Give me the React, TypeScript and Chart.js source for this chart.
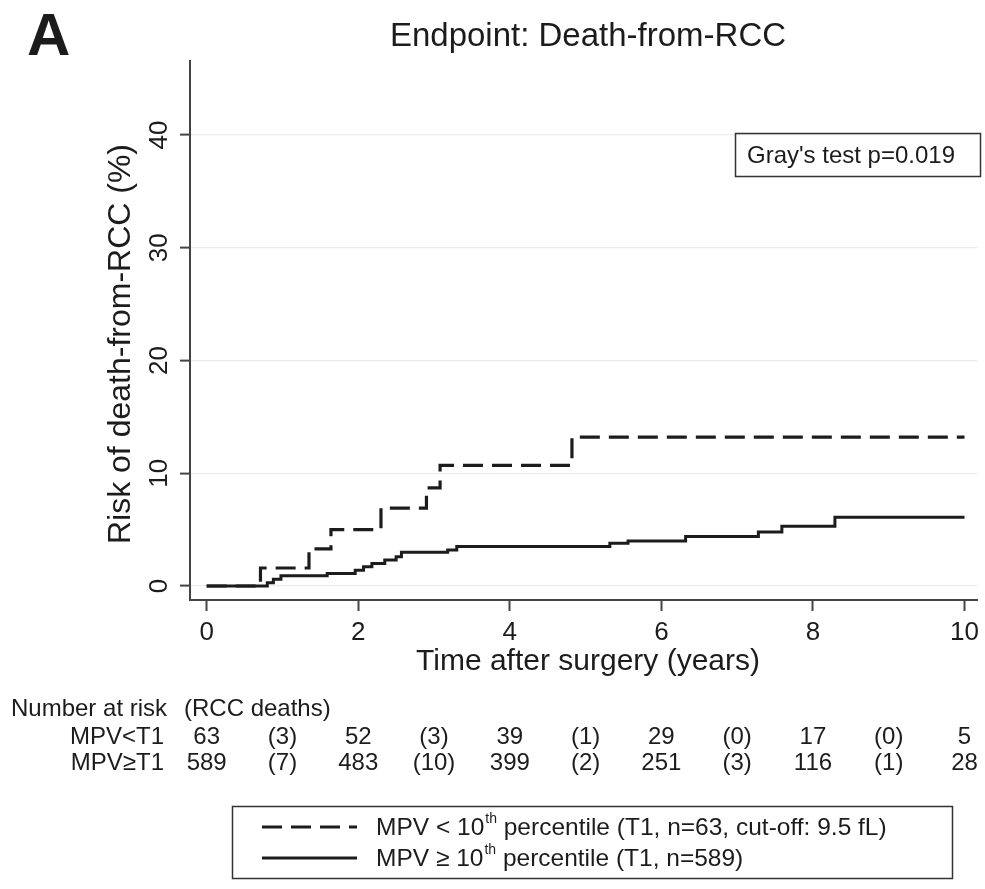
import React, { useEffect, useRef } from 'react';
import { Chart, registerables } from 'chart.js';

Chart.register(...registerables);

// ---- Data ----
const dashedTimes = [0, 0.71, 1.35, 1.64, 2.3, 2.9, 3.08, 4.82, 10.0];
const dashedRisk = [0, 1.6, 3.3, 5.0, 6.9, 8.7, 10.7, 13.2, 13.2];

const solidTimes = [0, 0.8, 0.88, 0.98, 1.59, 1.96, 2.07, 2.18, 2.35, 2.5, 2.57, 3.18, 3.3, 5.32, 5.56, 6.32, 7.28, 7.59, 8.29, 10.0];
const solidRisk = [0, 0.3, 0.6, 0.9, 1.1, 1.4, 1.7, 2.0, 2.3, 2.6, 3.0, 3.2, 3.5, 3.8, 4.0, 4.4, 4.8, 5.3, 6.1, 6.1];

const xTicks = [0, 2, 4, 6, 8, 10];
const yTicks = [0, 10, 20, 30, 40];

const riskTimes = [0, 1, 2, 3, 4, 5, 6, 7, 8, 9, 10];
const riskLow = ['63', '(3)', '52', '(3)', '39', '(1)', '29', '(0)', '17', '(0)', '5'];
const riskHigh = ['589', '(7)', '483', '(10)', '399', '(2)', '251', '(3)', '116', '(1)', '28'];

const FONT = '"Liberation Sans", Arial, Helvetica, sans-serif';
const INK = '#1c1c1c';

const overlayPlugin = {
  id: 'overlay',
  afterDraw(chart: any) {
    const ctx = chart.ctx as CanvasRenderingContext2D;
    const xs = chart.scales.x;
    ctx.save();
    ctx.fillStyle = INK;
    ctx.strokeStyle = '#333';

    // Panel letter
    ctx.font = `bold 60px ${FONT}`;
    ctx.textAlign = 'left';
    ctx.textBaseline = 'alphabetic';
    ctx.fillText('A', 27, 55);

    // Title
    ctx.font = `33px ${FONT}`;
    ctx.textAlign = 'center';
    ctx.fillText('Endpoint: Death-from-RCC', 588, 46);

    // X axis title
    ctx.font = `30px ${FONT}`;
    ctx.textBaseline = 'middle';
    ctx.fillText('Time after surgery (years)', 588, 662);

    // Y axis title
    ctx.save();
    ctx.translate(121, 344);
    ctx.rotate(-Math.PI / 2);
    ctx.font = `32px ${FONT}`;
    ctx.fillText('Risk of death-from-RCC (%)', 0, 0);
    ctx.restore();

    // Gray's test box
    ctx.lineWidth = 1.5;
    ctx.strokeRect(735.5, 133.5, 245, 43);
    ctx.font = `24px ${FONT}`;
    ctx.textAlign = 'left';
    ctx.fillText("Gray's test p=0.019", 747, 156);

    // Number at risk table
    ctx.font = `24px ${FONT}`;
    ctx.textAlign = 'left';
    ctx.fillText('Number at risk', 11, 709);
    ctx.fillText('(RCC deaths)', 184, 709);
    ctx.textAlign = 'right';
    ctx.fillText('MPV<T1', 164, 737);
    ctx.fillText('MPV\u2265T1', 164, 763);
    ctx.textAlign = 'center';
    riskTimes.forEach((t, i) => {
      const px = xs.getPixelForValue(t);
      ctx.fillText(riskLow[i], px, 737);
      ctx.fillText(riskHigh[i], px, 763);
    });

    // Legend box
    ctx.lineWidth = 1.5;
    ctx.strokeStyle = '#333';
    ctx.strokeRect(232.5, 806.5, 720, 72);
    ctx.strokeStyle = INK;
    ctx.lineWidth = 3;
    ctx.setLineDash([20, 9]);
    ctx.beginPath();
    ctx.moveTo(262, 827);
    ctx.lineTo(357, 827);
    ctx.stroke();
    ctx.setLineDash([]);
    ctx.beginPath();
    ctx.moveTo(262, 858);
    ctx.lineTo(357, 858);
    ctx.stroke();

    const drawLegendText = (pre: string, post: string, y: number) => {
      let x = 376;
      ctx.textAlign = 'left';
      ctx.textBaseline = 'middle';
      ctx.font = `24.5px ${FONT}`;
      ctx.fillText(pre, x, y);
      x += ctx.measureText(pre).width;
      ctx.font = `14px ${FONT}`;
      ctx.fillText('th', x + 1, y - 9);
      x += ctx.measureText('th').width + 1;
      ctx.font = `24.5px ${FONT}`;
      ctx.fillText(post, x, y);
    };
    drawLegendText('MPV < 10', ' percentile (T1, n=63, cut-off: 9.5 fL)', 828);
    drawLegendText('MPV \u2265 10', ' percentile (T1, n=589)', 859);

    ctx.restore();
  },
};

export default function App() {
  const canvasRef = useRef<HTMLCanvasElement | null>(null);

  useEffect(() => {
    document.body.style.margin = '0';
    const canvas = canvasRef.current;
    if (!canvas) return;

    const toPoints = (xs: number[], ys: number[]) => xs.map((x, i) => ({ x, y: ys[i] }));

    const chart = new Chart(canvas, {
      type: 'line',
      data: {
        datasets: [
          {
            label: 'MPV < 10th percentile',
            data: toPoints(dashedTimes, dashedRisk),
            borderColor: INK,
            borderWidth: 3.2,
            borderDash: [20, 9],
            stepped: true,
            pointRadius: 0,
            fill: false,
          },
          {
            label: 'MPV >= 10th percentile',
            data: toPoints(solidTimes, solidRisk),
            borderColor: INK,
            borderWidth: 3,
            stepped: true,
            pointRadius: 0,
            fill: false,
          },
        ],
      },
      options: {
        responsive: false,
        animation: false,
        devicePixelRatio: 1,
        layout: { padding: { left: 0, top: 61, right: 2, bottom: 0 } },
        plugins: {
          legend: { display: false },
          tooltip: { enabled: false },
          title: { display: false },
        },
        scales: {
          x: {
            type: 'linear',
            min: -0.22,
            max: 10.17,
            afterBuildTicks: (scale: any) => {
              scale.ticks = xTicks.map((v) => ({ value: v }));
            },
            afterFit: (scale: any) => {
              scale.height = 289;
            },
            border: { display: true, color: '#444', width: 2 },
            grid: {
              drawOnChartArea: false,
              drawTicks: true,
              tickLength: 11,
              tickColor: '#444',
              tickWidth: 2,
            },
            ticks: {
              font: { family: FONT, size: 26 },
              color: INK,
              padding: 6,
              maxRotation: 0,
              autoSkip: false,
            },
          },
          y: {
            type: 'linear',
            min: -1.24,
            max: 46.56,
            afterBuildTicks: (scale: any) => {
              scale.ticks = yTicks.map((v) => ({ value: v }));
            },
            afterFit: (scale: any) => {
              scale.width = 190;
            },
            border: { display: true, color: '#444', width: 2 },
            grid: {
              drawOnChartArea: true,
              color: '#ececec',
              lineWidth: 1.2,
              drawTicks: true,
              tickLength: 10,
              tickColor: '#444',
              tickWidth: 2,
            },
            ticks: {
              font: { family: FONT, size: 26 },
              color: INK,
              padding: 6,
              minRotation: 90,
              maxRotation: 90,
              crossAlign: 'center',
              autoSkip: false,
            },
          },
        },
      },
      plugins: [overlayPlugin],
    } as any);

    return () => {
      chart.destroy();
    };
  }, []);

  return (
    <div style={{ position: 'relative', width: 985, height: 889, background: '#fff' }}>
      <canvas ref={canvasRef} width={985} height={889} style={{ display: 'block' }} />
    </div>
  );
}
